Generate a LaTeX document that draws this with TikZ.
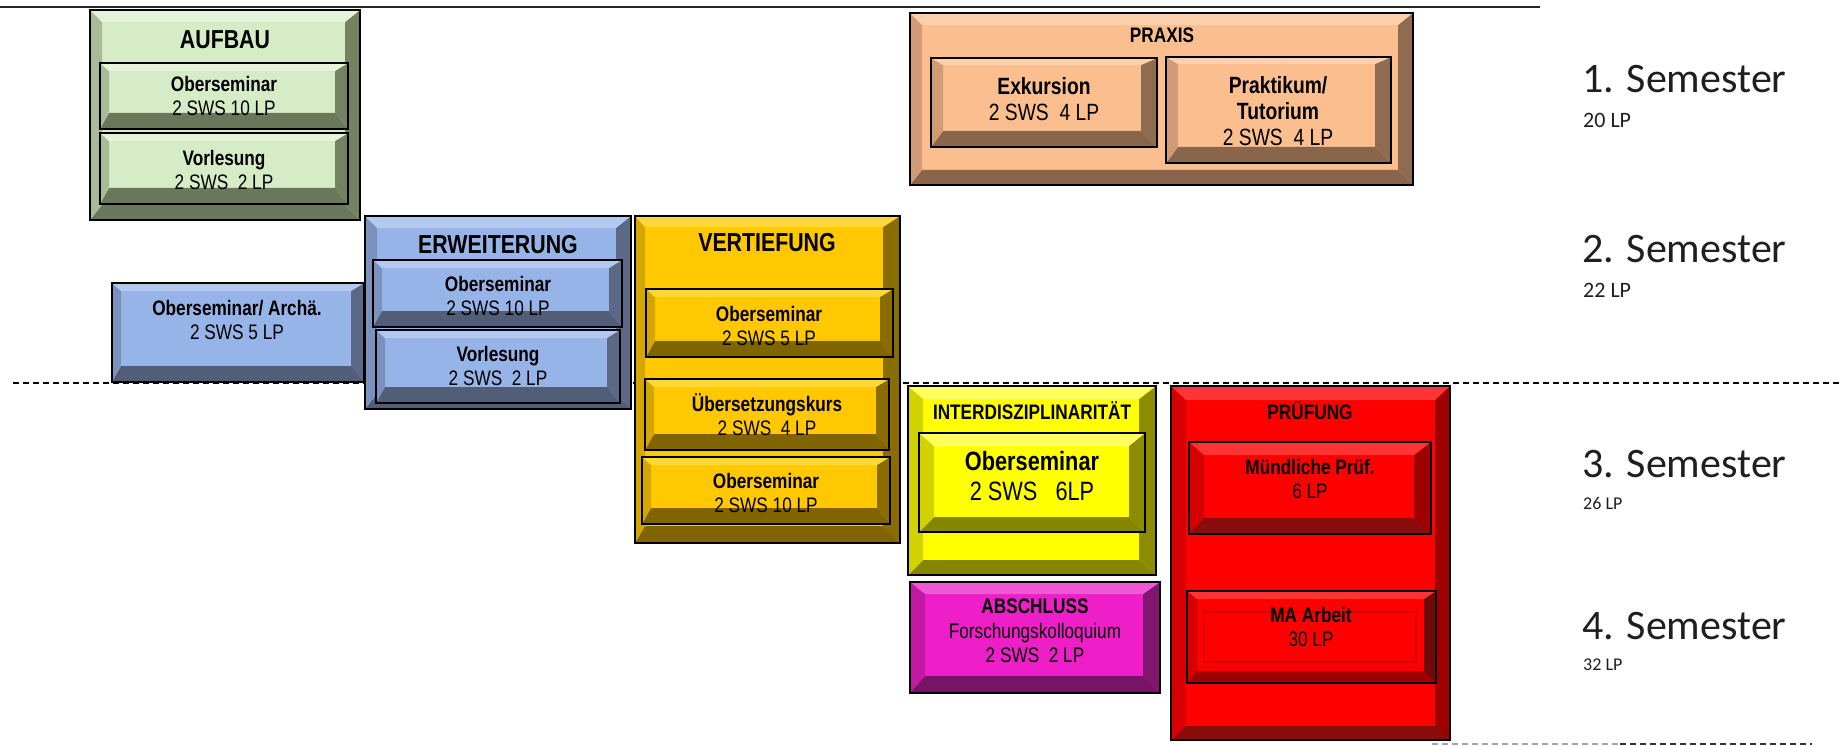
\documentclass[tikz,border=0pt]{standalone}
\usepackage{fontspec}
\newfontfamily\nar[FakeStretch=0.82]{Liberation Sans}
\newfontfamily\calfont{Carlito}
\usetikzlibrary{calc}

\definecolor{gF}{HTML}{D6ECC6}\definecolor{gT}{HTML}{E4F3DA}\definecolor{gL}{HTML}{A9BA98}\definecolor{gR}{HTML}{75825F}\definecolor{gB}{HTML}{6B775A}
\definecolor{bF}{HTML}{97B4E8}\definecolor{bT}{HTML}{B3C9F0}\definecolor{bL}{HTML}{7C92BE}\definecolor{bR}{HTML}{5B6886}\definecolor{bB}{HTML}{525D78}
\definecolor{oF}{HTML}{FFC800}\definecolor{oT}{HTML}{FFD838}\definecolor{oL}{HTML}{D4A600}\definecolor{oR}{HTML}{8A6D00}\definecolor{oB}{HTML}{7F6400}
\definecolor{pF}{HTML}{FBBE8E}\definecolor{pT}{HTML}{FDD0AD}\definecolor{pL}{HTML}{D19C74}\definecolor{pR}{HTML}{8F6B50}\definecolor{pB}{HTML}{89664B}
\definecolor{yF}{HTML}{FFFF00}\definecolor{yT}{HTML}{FFFF60}\definecolor{yL}{HTML}{D2D200}\definecolor{yR}{HTML}{8C8C00}\definecolor{yB}{HTML}{858500}
\definecolor{mF}{HTML}{EE1EC8}\definecolor{mT}{HTML}{F257D6}\definecolor{mL}{HTML}{C318A4}\definecolor{mR}{HTML}{80186F}\definecolor{mB}{HTML}{781465}
\definecolor{rF}{HTML}{FF0000}\definecolor{rT}{HTML}{FF3535}\definecolor{rL}{HTML}{D60000}\definecolor{rR}{HTML}{9E0000}\definecolor{rB}{HTML}{8A0C0C}

\tikzset{
  bvt/.store in=\bvT, bvl/.store in=\bvL, bvr/.store in=\bvR, bvb/.store in=\bvB,
  cTop/.store in=\cTop, cLeft/.store in=\cLeft, cRight/.store in=\cRight, cBot/.store in=\cBot,
  bvt=12pt, bvl=12pt, bvr=15pt, bvb=15pt,
  cTop=white, cLeft=gray, cRight=darkgray, cBot=darkgray,
  bevel/.style={rectangle, draw=black, inner sep=0pt, outer sep=0pt,
    path picture={
      \coordinate (pNW) at (path picture bounding box.north west);
      \coordinate (pNE) at (path picture bounding box.north east);
      \coordinate (pSE) at (path picture bounding box.south east);
      \coordinate (pSW) at (path picture bounding box.south west);
      \fill[fill=\cBot] (pSW) -- (pSE) -- ([xshift=-\bvR,yshift=\bvB]pSE) -- ([xshift=\bvL,yshift=\bvB]pSW) -- cycle;
      \fill[fill=\cRight] (pSE) -- (pNE) -- ([xshift=-\bvR,yshift=-\bvT]pNE) -- ([xshift=-\bvR,yshift=\bvB]pSE) -- cycle;
      \fill[fill=\cLeft] (pSW) -- (pNW) -- ([xshift=\bvL,yshift=-\bvT]pNW) -- ([xshift=\bvL,yshift=\bvB]pSW) -- cycle;
      \fill[fill=\cTop] (pNW) -- (pNE) -- ([xshift=-\bvR,yshift=-\bvT]pNE) -- ([xshift=\bvL,yshift=-\bvT]pNW) -- cycle;
    }},
  outerbox/.style={bevel, line width=2pt, bvt=12pt, bvl=12pt, bvr=15pt, bvb=15pt},
  leaf/.style={bevel, line width=2.8pt, bvt=8pt, bvl=9pt, bvr=13pt, bvb=16pt},
  green/.style={fill=gF, cTop=gT, cLeft=gL, cRight=gR, cBot=gB},
  blue/.style={fill=bF, cTop=bT, cLeft=bL, cRight=bR, cBot=bB},
  orange/.style={fill=oF, cTop=oT, cLeft=oL, cRight=oR, cBot=oB},
  peach/.style={fill=pF, cTop=pT, cLeft=pL, cRight=pR, cBot=pB},
  yellowc/.style={fill=yF, cTop=yT, cLeft=yL, cRight=yR, cBot=yB},
  magentac/.style={fill=mF, cTop=mT, cLeft=mL, cRight=mR, cBot=mB},
  redc/.style={fill=rF, cTop=rT, cLeft=rL, cRight=rR, cBot=rB},
  txt/.style={align=center, inner sep=0pt, text=black, font=\nar\fontsize{21}{24}\selectfont},
  txtbig/.style={align=center, inner sep=0pt, text=black, font=\nar\fontsize{23.5}{26}\selectfont},
  ttl/.style={align=center, inner sep=0pt, text=black, font=\nar\bfseries\fontsize{26}{30}\selectfont},
  ttlsmall/.style={align=center, inner sep=0pt, text=black, font=\nar\bfseries\fontsize{21}{24}\selectfont},
  sem/.style={anchor=base west, inner sep=0pt, text=black!88, font=\calfont\fontsize{42}{48}\selectfont},
  semlp/.style={anchor=base west, inner sep=0pt, text=black!88, font=\calfont\fontsize{22}{26}\selectfont},
  semlps/.style={anchor=base west, inner sep=0pt, text=black!88, font=\calfont\fontsize{18}{22}\selectfont},
}

\newcommand\bx[6]{\node[#6, minimum width={(#4)-(#2)}, minimum height={(#5)-(#3)}] (#1) at ({((#2)+(#4))/2},{((#3)+(#5))/2}) {};}

\begin{document}
\begin{tikzpicture}[x=1pt,y=-1pt]
\useasboundingbox (0,0) rectangle (1846,746);
\fill[white] (0,0) rectangle (1846,746);

% lines
\coordinate (topL) at (0,7);
\coordinate (topR) at (1540,7);
\draw[line width=2pt, black!85] (topL) -- (topR);
\coordinate (dashL) at (13,383);
\coordinate (dashR) at (1840,383);
\draw[line width=1.5pt, dash pattern=on 6pt off 4pt] (dashL) -- (dashR);
\coordinate (botL) at (1432,744);
\coordinate (botM) at (1620,744);
\coordinate (botR) at (1812,744);
\draw[line width=2pt, black!35, dash pattern=on 6pt off 4pt] (botL) -- (botM);
\draw[line width=2pt, black!80, dash pattern=on 6pt off 4pt] (botM) -- (botR);

% AUFBAU
\bx{aufbau}{90}{10}{360}{220}{outerbox,green}
\bx{aufOS}{100}{63}{348}{129}{leaf,green}
\bx{aufVL}{100}{133}{348}{204}{leaf,green}
\node[ttl] (aufT) at (225,40) {AUFBAU};
\node[txt] (aufOSt) at (224,96) {{\bfseries Oberseminar}\\2 SWS 10 LP};
\node[txt] (aufVLt) at (224,170) {{\bfseries Vorlesung}\\2 SWS~ 2 LP};

% PRAXIS
\bx{praxis}{910}{13}{1413}{185}{outerbox,peach}
\bx{praExk}{931}{58}{1157}{147}{leaf,peach,bvt=7pt,bvl=12pt,bvr=16pt,bvb=16pt}
\bx{praPrak}{1166}{57}{1391}{163}{leaf,peach,bvt=7pt,bvl=12pt,bvr=16pt,bvb=16pt}
\node[ttlsmall] (praT) at (1162,35) {PRAXIS};
\node[txtbig] (praExkT) at (1044,99) {{\bfseries Exkursion}\\2 SWS~ 4 LP};
\node[txtbig] (praPrakT) at (1278,111) {{\bfseries Praktikum/}\\{\bfseries Tutorium}\\2 SWS~ 4 LP};

% ERWEITERUNG
\bx{erw}{365}{216}{631}{409}{outerbox,blue}
\bx{archae}{112}{283}{364}{382}{leaf,blue}
\bx{erwOS}{373}{260}{622}{327}{leaf,blue}
\bx{erwVL}{376}{330}{620}{403}{leaf,blue}
\node[ttl] (erwT) at (498,245) {ERWEITERUNG};
\node[txt] (archT) at (237,320) {{\bfseries Oberseminar/ Archä.}\\2 SWS 5 LP};
\node[txt] (erwOSt) at (498,296) {{\bfseries Oberseminar}\\2 SWS 10 LP};
\node[txt] (erwVLt) at (498,366) {{\bfseries Vorlesung}\\2 SWS~ 2 LP};

% VERTIEFUNG
\bx{vert}{635}{216}{900}{543}{outerbox,orange,bvt=11pt,bvl=10pt,bvr=17pt,bvb=17pt}
\bx{vOS1}{646}{289}{893}{357}{leaf,orange}
\bx{vUeb}{645}{379}{889}{450}{leaf,orange}
\bx{vOS2}{642}{457}{890}{524}{leaf,orange}
\node[ttl] (vertT) at (767,243) {VERTIEFUNG};
\node[txt] (vOS1t) at (769,326) {{\bfseries Oberseminar}\\2 SWS 5 LP};
\node[txt] (vUebt) at (767,415) {{\bfseries Übersetzungskurs}\\2 SWS~ 4 LP};
\node[txt] (vOS2t) at (766,493) {{\bfseries Oberseminar}\\2 SWS 10 LP};

% INTERDISZIPLINARITAET
\bx{inter}{908}{386}{1156}{575}{outerbox,yellowc,bvt=13pt,bvl=15pt,bvr=17pt,bvb=15pt}
\bx{intOS}{919}{433}{1145}{532}{leaf,yellowc,bvt=13pt,bvl=15pt,bvr=16pt,bvb=15pt}
\node[ttlsmall] (interT) at (1032,411) {INTERDISZIPLINARITÄT};
\node[align=center, inner sep=0pt, font=\nar\fontsize{26.5}{30}\selectfont] (intOSt) at (1032,476) {{\bfseries Oberseminar}\\2 SWS~~ 6LP};

% ABSCHLUSS
\bx{absch}{910}{582}{1160}{693}{bevel,line width=2.5pt,magentac,bvt=12pt,bvl=15pt,bvr=17pt,bvb=17pt}
\node[txt, font=\nar\fontsize{21}{24.5}\selectfont] (abschT) at (1035,631) {{\bfseries ABSCHLUSS}\\Forschungskolloquium\\2 SWS~ 2 LP};

% PRUEFUNG
\bx{pruef}{1171}{386}{1450}{740}{outerbox,redc,bvt=14pt,bvl=15pt,bvr=15pt,bvb=14pt}
\bx{muend}{1189}{442}{1431}{534}{leaf,redc,bvt=13pt,bvl=15pt,bvr=17pt,bvb=16pt}
\bx{maarb}{1187}{591}{1436}{683}{bevel,line width=2.8pt,fill=rF,cTop=rT,cLeft=rL,cRight=rB!80!black,cBot=rR,bvt=8pt,bvl=10pt,bvr=12pt,bvb=12pt}
\node[draw=rF!85!black, line width=1.2pt, minimum width=212pt, minimum height=50pt, inner sep=0pt] (maInner) at (1310,637) {};
\node[ttlsmall] (pruefT) at (1310,411) {PRÜFUNG};
\node[txt] (muendT) at (1310,479) {{\bfseries Mündliche Prüf.}\\6 LP};
\node[txt] (maT) at (1311,627) {{\bfseries MA Arbeit}\\30 LP};

% Semester
\node[sem] (s1) at (1582,93) {1. Semester};
\node[semlp] (s1lp) at (1583,128) {20 LP};
\node[sem] (s2) at (1582,262) {2. Semester};
\node[semlp] (s2lp) at (1583,297) {22 LP};
\node[sem] (s3) at (1582,477) {3. Semester};
\node[semlps] (s3lp) at (1583,509) {26 LP};
\node[sem] (s4) at (1582,639) {4. Semester};
\node[semlps] (s4lp) at (1583,670) {32 LP};
\end{tikzpicture}
\end{document}
